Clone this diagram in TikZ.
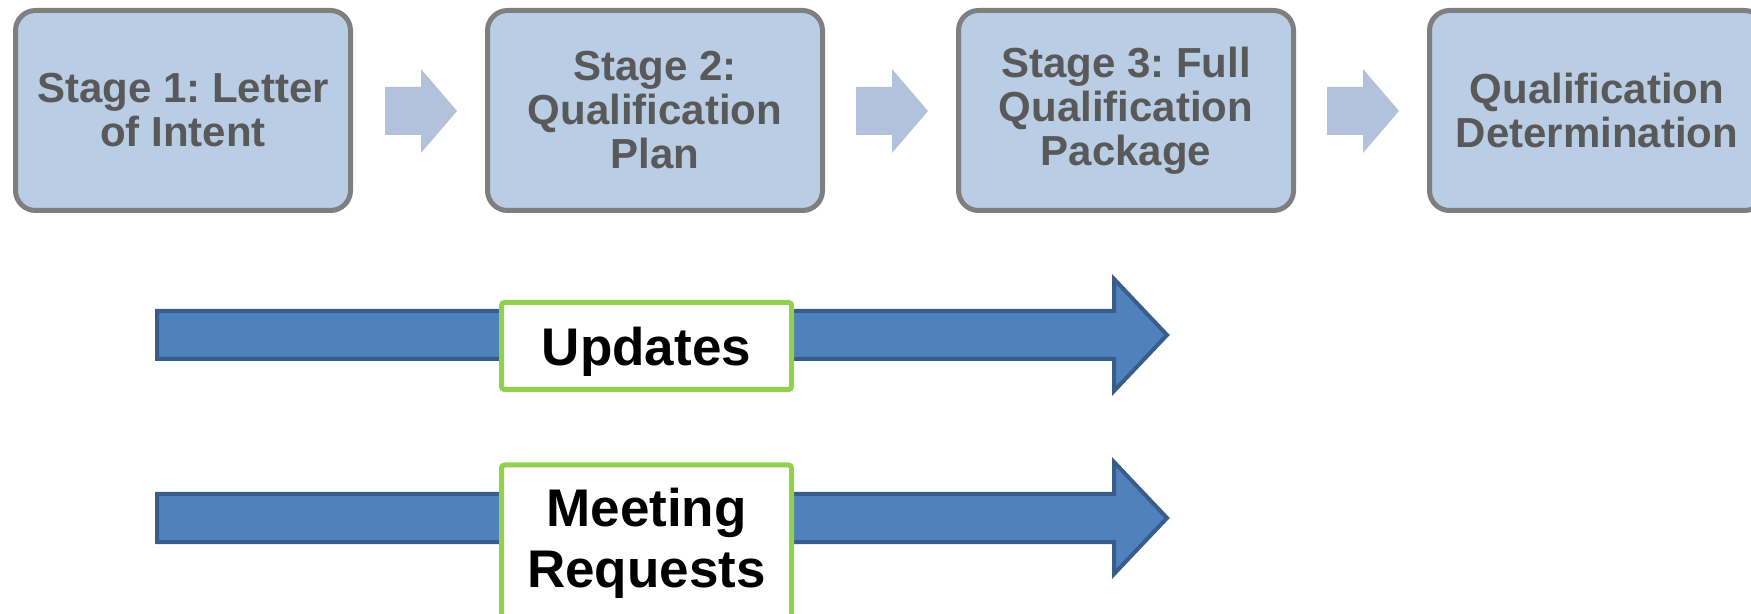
\documentclass[tikz,border=0pt]{standalone}
\usepackage{fontspec}
\setmainfont{Liberation Sans}
\frenchspacing
\definecolor{stagefill}{HTML}{B9CDE5}
\definecolor{stageline}{HTML}{7F7F7F}
\definecolor{stagetext}{HTML}{595959}
\definecolor{stepfill}{HTML}{B2C2DD}
\definecolor{flowfill}{HTML}{4F81BD}
\definecolor{flowline}{HTML}{385D8A}
\definecolor{tagline}{HTML}{92D050}
\begin{document}
\begin{tikzpicture}[x=0.5pt,y=-0.5pt,
  stagebox/.style={draw=stageline, fill=stagefill, line width=2.5pt,
    rounded corners=10pt, minimum width=167.5pt, minimum height=100pt,
    inner sep=0pt, align=center, text=stagetext,
    font=\fontsize{21}{22}\selectfont\bfseries},
  steparrow/.style={fill=stepfill},
  flowarrow/.style={draw=flowline, fill=flowfill, line width=2pt},
  tagbox/.style={draw=tagline, fill=white, line width=2.5pt,
    rounded corners=1.5pt, minimum width=145pt, inner sep=0pt},
  tagtext/.style={align=center, text=black, inner sep=0pt,
    font=\fontsize{26.5}{30.5}\selectfont\bfseries}]
\useasboundingbox (0,0) rectangle (1751,614);
\clip (0,0) rectangle (1751,614);

% stage boxes
\node[stagebox] (s1) at (183,110.5) {Stage 1: Letter\\of Intent};
\node[stagebox] (s2) at (655,110.5) {Stage 2:\\Qualification\\Plan};
\node[stagebox] (s3) at (1126,110.5) {Stage 3: Full\\Qualification\\Package};
\node[stagebox] (s4) at (1597,110.5) {Qualification\\Determination};

% block arrows between the stages
\foreach \L in {385,856,1327}{
  \fill[steparrow] (\L,87) -- (\L+36,87) -- (\L+36,69) -- (\L+72,111)
    -- (\L+36,153) -- (\L+36,135) -- (\L,135) -- cycle;
}

% long process arrows
\draw[flowarrow] (157,311) -- (1114,311) -- (1114,279) -- (1167,335)
  -- (1114,391) -- (1114,359) -- (157,359) -- cycle;
\draw[flowarrow] (157,494) -- (1114,494) -- (1114,462) -- (1167,518)
  -- (1114,574) -- (1114,542) -- (157,542) -- cycle;

% labels on the process arrows
\node[tagbox, minimum height=43.5pt] (upd) at (646.5,346) {};
\node[tagtext] (updtext) at ([yshift=-3pt]upd.center) {Updates};
\node[tagbox, minimum height=80pt] (meet) at (646.5,545) {};
\node[tagtext] (meettext) at ([yshift=1pt]meet.center) {Meeting\\Requests};
\end{tikzpicture}
\end{document}
